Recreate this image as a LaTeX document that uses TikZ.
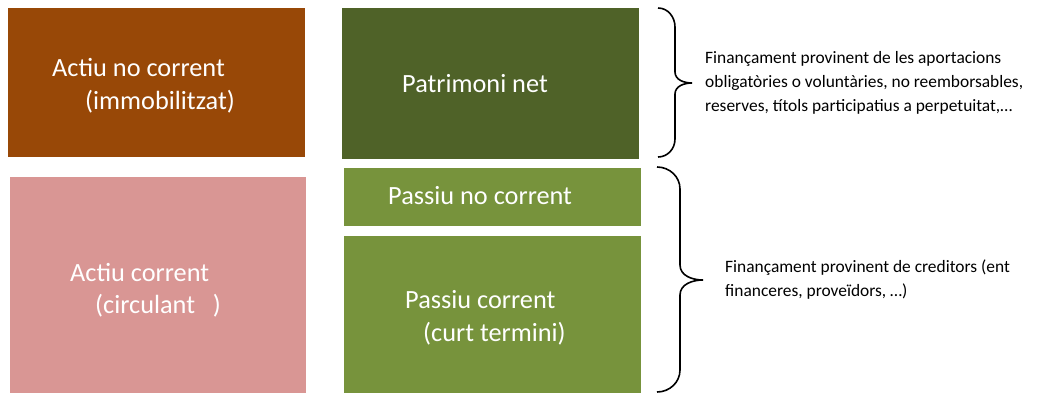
\documentclass[tikz,border=0pt]{standalone}
\usepackage{fontspec}
\setmainfont{Carlito}
\usetikzlibrary{positioning}

\definecolor{brunactiu}{HTML}{984807}
\definecolor{rosactiu}{HTML}{D99694}
\definecolor{verdfosc}{HTML}{4F6228}
\definecolor{verdclar}{HTML}{77933C}

\tikzset{
  bloc/.style={rectangle,draw=none,anchor=north west,inner sep=0pt},
  rotul/.style={anchor=west,inner sep=0pt,text=white,align=left,
    font=\fontsize{26.3}{32.5}\selectfont},
  nota/.style={anchor=west,inner sep=0pt,align=left,
    font=\fontsize{17.4}{24}\selectfont},
  clau/.style={black,line width=1.6pt}
}

\begin{document}
\begin{tikzpicture}[x=1pt,y=1pt]
\useasboundingbox (0,0) rectangle (1051,-394);

% actiu
\node[bloc,fill=brunactiu,minimum width=297pt,minimum height=149pt] (actiunc) at (8,-8) {};
\node[bloc,fill=rosactiu,minimum width=296pt,minimum height=216pt] (actiuc) at (10,-177) {};

% patrimoni net i passiu
\node[bloc,fill=verdfosc,minimum width=297pt,minimum height=151pt] (patrimoni) at (342,-8) {};
\node[bloc,fill=verdclar,minimum width=297pt,minimum height=58pt] (passiunc) at (344,-168) {};
\node[bloc,fill=verdclar,minimum width=297pt,minimum height=157pt] (passiuc) at (344,-236) {};

\node[rotul,right=44pt of actiunc.west,yshift=-2.8pt] (tactiunc) {Actiu no corrent\\\hspace*{33pt}(immobilitzat)};
\node[rotul,right=60pt of actiuc.west,yshift=-4.8pt] (tactiuc) {Actiu corrent\\\hspace*{25pt}(circulant\ \ \ )};
\node[rotul,right=60pt of patrimoni.west] (tpatrimoni) {Patrimoni net};
\node[rotul,right=44pt of passiunc.west,yshift=1.2pt] (tpassiunc) {Passiu no corrent};
\node[rotul,right=61pt of passiuc.west,yshift=-3.3pt] (tpassiuc) {Passiu corrent\\\hspace*{18pt}(curt termini)};

% claus
\coordinate (puntpropi) at (692,-83);
\coordinate (puntalie) at (703,-280);
\draw[clau] (658,-8) to[out=0,in=90] (675,-27) -- (675,-72) to[out=-90,in=180] (puntpropi)
  to[out=180,in=90] (675,-94) -- (675,-139) to[out=-90,in=0] (658,-157);
\draw[clau] (657,-167) to[out=0,in=90] (680,-189) -- (680,-265) to[out=-90,in=180] (puntalie)
  to[out=180,in=90] (680,-295) -- (680,-370) to[out=-90,in=0] (657,-392);

\node[nota,right=13pt of puntpropi] (npropi) {Finançament provinent de les aportacions\\obligatòries o voluntàries, no reemborsables,\\reserves, títols participatius a perpetuitat,…};
\node[nota,right=22pt of puntalie] (nalie) {Finançament provinent de creditors (ent\\financeres, proveïdors, …)};
\end{tikzpicture}
\end{document}
